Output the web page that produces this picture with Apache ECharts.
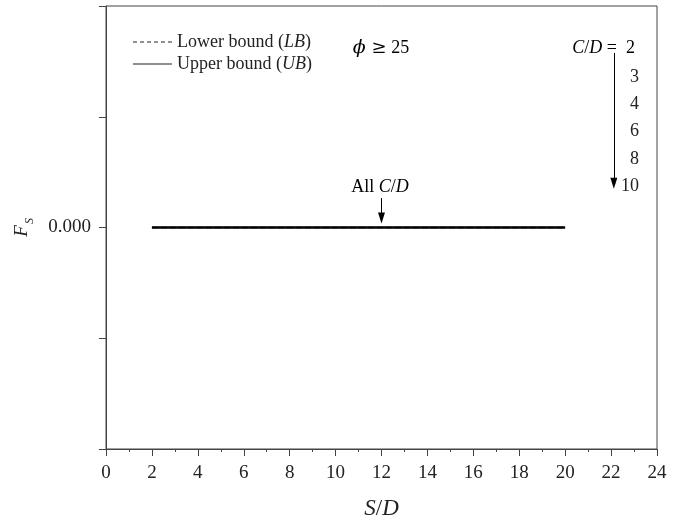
<!DOCTYPE html>
<html lang="en">
<head>
    <meta charset="UTF-8">
    <title>Fs vs S/D</title>
    <script src="https://cdn.jsdelivr.net/npm/echarts@6/dist/echarts.min.js"></script>
    <style>
        html, body { margin: 0; padding: 0; background: #fff; }
        #container { width: 686px; height: 525px; }
    </style>
</head>
<body>
<div id="container"></div>
<script type="text/javascript">
    var dom = document.getElementById("container");
    var myChart = echarts.init(dom);

    var font = 'Liberation Serif';

    // S/D values and the two bounds (both sit on zero)
    var sdValues = [2, 4, 6, 8, 10, 12, 14, 16, 18, 20];
    var lowerBound = [0, 0, 0, 0, 0, 0, 0, 0, 0, 0];
    var upperBound = [0, 0, 0, 0, 0, 0, 0, 0, 0, 0];
    var cdValues = ['3', '4', '6', '8', '10'];

    var lbData = sdValues.map(function (x, i) { return [x, lowerBound[i]]; });
    var ubData = sdValues.map(function (x, i) { return [x, upperBound[i]]; });

    var rich = {
        n: { fontFamily: font, fontSize: 18, color: '#222' },
        i: { fontFamily: font, fontSize: 18, color: '#222', fontStyle: 'italic' },
        big: { fontFamily: 'DejaVu Serif', fontSize: 19, color: '#222', fontStyle: 'italic' },
        ge: { fontFamily: 'DejaVu Serif', fontSize: 18, color: '#222' }
    };

    var cdTexts = cdValues.map(function (v, i) {
        return {
            type: 'text',
            x: 639,
            y: 77 + i * 27.3,
            style: { text: v, font: '18px "' + font + '"', fill: '#222', align: 'right', verticalAlign: 'middle' }
        };
    });

    // legend icons: thin dashed and solid strokes
    var dashIcon = 'path://M0,0H4V1H0Z M7,0H11V1H7Z M14,0H18V1H14Z M21,0H25V1H21Z M28,0H32V1H28Z M35,0H39V1H35Z';
    var solidIcon = 'path://M0,0H39V1H0Z';

    var option = {
        animation: false,
        grid: {
            left: 106, right: 29, top: 6, bottom: 76,
            outerBoundsMode: 'none',
            show: true, borderColor: '#444', borderWidth: 1
        },
        legend: {
            left: 128, top: 27,
            orient: 'vertical',
            itemWidth: 39, itemHeight: 1.2, itemGap: 2,
            data: [
                { name: 'lb', icon: dashIcon },
                { name: 'ub', icon: solidIcon }
            ],
            itemStyle: { color: '#222' },
            formatter: function (name) {
                return name === 'lb' ? '{n|Lower bound (}{i|LB}{n|)}' : '{n|Upper bound (}{i|UB}{n|)}';
            },
            textStyle: { rich: rich, lineHeight: 20, padding: [0, 0, 0, 0] }
        },
        xAxis: {
            type: 'value',
            min: 0, max: 24, interval: 2,
            name: '{i|S}{n|/}{i|D}',
            nameLocation: 'middle',
            nameGap: 48,
            nameTextStyle: { rich: { i: { fontFamily: font, fontSize: 23, fontStyle: 'italic', color: '#222' }, n: { fontFamily: font, fontSize: 23, color: '#222' } } },
            axisLine: { show: true, onZero: false, lineStyle: { color: '#444', width: 1 } },
            axisTick: { show: true, inside: false, length: 7, lineStyle: { color: '#444' } },
            minorTick: { show: true, splitNumber: 2, length: 3, lineStyle: { color: '#444' } },
            axisLabel: { fontFamily: font, fontSize: 19, color: '#222', margin: 15 },
            splitLine: { show: false }
        },
        yAxis: {
            type: 'value',
            min: -0.002, max: 0.002, interval: 0.001,
            axisLine: { show: true, onZero: false, lineStyle: { color: '#444', width: 1 } },
            axisTick: { show: true, inside: false, length: 7, lineStyle: { color: '#444' } },
            axisLabel: {
                fontFamily: font, fontSize: 19, color: '#222', margin: 15,
                formatter: function (v) { return Math.abs(v) < 1e-9 ? '0.000' : ''; }
            },
            splitLine: { show: false }
        },
        series: [
            {
                name: 'lb',
                type: 'line',
                data: lbData,
                showSymbol: false,
                symbol: 'none',
                lineStyle: { color: '#000', width: 1.5, type: 'dashed' },
                itemStyle: { color: '#000' },
                markLine: {
                    silent: true,
                    symbol: ['none', 'triangle'],
                    symbolSize: [7, 11],
                    label: { show: false },
                    lineStyle: { color: '#000', width: 1, type: 'solid' },
                    data: [
                        [{ coord: [12, 0.000266] }, { coord: [12, 0.000086] }],
                        [{ coord: [22.12, 0.001576] }, { coord: [22.12, 0.0004] }]
                    ]
                }
            },
            {
                name: 'ub',
                type: 'line',
                z: 3,
                data: ubData,
                showSymbol: false,
                symbol: 'none',
                lineStyle: { color: '#000', width: 2.6, type: 'solid' },
                itemStyle: { color: '#000' }
            }
        ],
        graphic: [
            {
                type: 'text', x: 381, y: 48,
                style: { text: '{big|ϕ}{ge| ≥}{n| 25}', rich: rich, align: 'center', verticalAlign: 'middle' }
            },
            {
                type: 'text', x: 635, y: 48,
                style: { text: '{i|C}{n|/}{i|D}{n| =  2}', rich: rich, align: 'right', verticalAlign: 'middle' }
            },
            {
                type: 'text', x: 380, y: 187,
                style: { text: '{n|All }{i|C}{n|/}{i|D}', rich: rich, align: 'center', verticalAlign: 'middle' }
            },
            // y-axis name F_S, rotated
            {
                type: 'text', x: 22, y: 231, rotation: Math.PI / 2,
                style: { text: 'F', font: 'italic 19px "' + font + '"', fill: '#222', align: 'center', verticalAlign: 'middle' }
            },
            {
                type: 'text', x: 30, y: 221, rotation: Math.PI / 2,
                style: { text: 'S', font: 'italic 12px "' + font + '"', fill: '#222', align: 'center', verticalAlign: 'middle' }
            }
        ].concat(cdTexts)
    };

    myChart.setOption(option);
</script>
</body>
</html>
